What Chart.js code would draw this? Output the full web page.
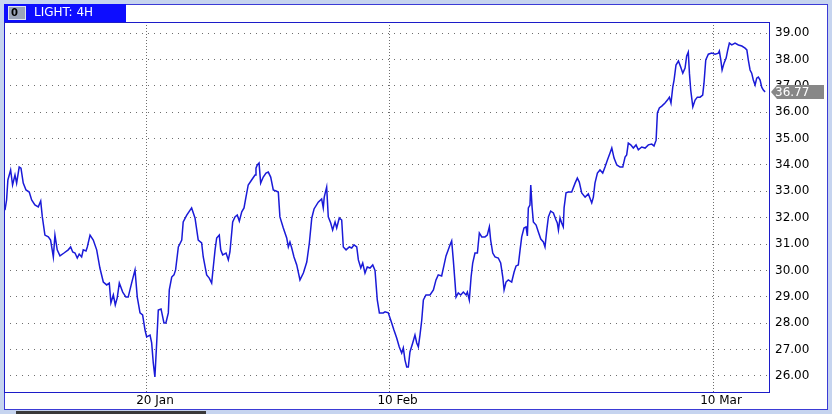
<!DOCTYPE html>
<html>
<head>
<meta charset="utf-8">
<script src="https://cdn.jsdelivr.net/npm/chart.js@4/dist/chart.umd.min.js"></script>
<style>
  html, body { margin: 0; padding: 0; background: #c6d4ef; }
  #wrap { width: 832px; height: 414px; }
</style>
</head>
<body>
<div id="wrap"><canvas id="priceChart" width="832" height="414"></canvas></div>
<script>
// x = trading days counted from 20 Jan (4H bars), y = price
var days = [
  -8.78,-8.68,-8.60,-8.43,-8.31,-8.16,-8.06,-7.90,-7.79,-7.65,-7.48,-7.28,-7.13,-6.93,-6.72,-6.57,-6.47,-6.31,-6.10,-5.96,
  -5.86,-5.79,-5.69,-5.55,-5.38,-5.13,-4.87,-4.72,-4.59,-4.45,-4.31,-4.19,-4.04,-3.94,-3.77,-3.69,-3.52,-3.32,-3.11,-2.91,
  -2.70,-2.49,-2.33,-2.23,-2.08,-1.96,-1.84,-1.71,-1.50,-1.30,-1.16,-0.95,-0.74,-0.60,-0.43,-0.27,-0.12,-0.02,0.19,0.29,
  0.39,0.49,0.60,0.70,0.87,1.05,1.17,1.32,1.38,1.53,1.67,1.77,1.94,2.15,2.24,2.46,2.76,2.97,3.17,3.38,
  3.48,3.69,3.85,4.00,4.10,4.21,4.31,4.47,4.56,4.68,4.89,5.03,5.13,5.30,5.44,5.58,5.71,5.86,6.00,6.12,
  6.26,6.47,6.68,6.74,6.82,6.93,7.03,7.19,7.36,7.50,7.65,7.81,7.98,8.12,8.22,8.43,8.64,8.74,8.84,8.95,
  9.09,9.26,9.46,9.67,9.88,10.04,10.19,10.33,10.59,10.80,10.90,10.96,11.11,11.21,11.36,11.48,11.63,11.73,11.89,12.04,
  12.14,12.31,12.51,12.66,12.80,12.97,13.07,13.22,13.34,13.48,13.62,13.79,13.96,14.10,14.24,14.37,14.61,14.72,14.92,15.13,
  15.27,15.44,15.60,15.75,15.85,15.95,16.06,16.16,16.26,16.43,16.57,16.68,16.78,16.88,16.99,17.09,17.25,17.50,17.71,17.87,
  18.01,18.22,18.37,18.49,18.63,18.74,18.84,18.94,19.05,19.11,19.25,19.40,19.56,19.73,19.81,19.93,20.04,20.14,20.28,20.43,
  20.55,20.70,20.90,21.04,21.17,21.25,21.38,21.52,21.72,21.87,22.00,22.08,22.20,22.34,22.55,22.70,22.82,22.96,23.07,23.17,
  23.31,23.44,23.52,23.58,23.68,23.73,23.81,23.89,24.06,24.20,24.35,24.51,24.61,24.72,24.82,24.96,25.13,25.29,25.37,25.44,
  25.54,25.64,25.74,25.79,25.91,26.05,26.26,26.47,26.61,26.73,26.88,27.09,27.29,27.50,27.60,27.70,27.85,28.01,28.18,28.32,
  28.47,28.63,28.74,28.88,29.05,29.25,29.42,29.56,29.66,29.76,29.91,30.07,30.24,30.38,30.59,30.80,31.00,31.21,31.35,31.48,
  31.56,31.68,31.83,32.03,32.18,32.30,32.40,32.51,32.59,32.71,32.86,33.00,33.13,33.27,33.37,33.47,33.54,33.62,33.75,33.89,
  34.03,34.20,34.36,34.44,34.55,34.71,34.92,35.13,35.33,35.39,35.48,35.56,35.68,35.81,35.91,36.01,36.16,36.36,36.57,36.78,
  36.98,37.09,37.18,37.29,37.39,37.49,37.60,37.70,37.80,37.91,38.01,38.11,38.22
];
var prices = [
  32.29,32.67,33.43,33.81,33.24,33.62,33.31,33.92,33.88,33.31,33.05,32.97,32.67,32.48,32.41,32.63,32.03,31.34,31.27,31.15,
  30.78,30.51,31.34,30.78,30.55,30.66,30.78,30.89,30.70,30.66,30.47,30.62,30.51,30.78,30.74,30.89,31.34,31.15,30.78,30.09,
  29.56,29.45,29.52,28.77,29.07,28.69,28.96,29.52,29.18,28.99,28.99,29.52,30.02,28.99,28.39,28.31,27.74,27.48,27.55,27.25,
  26.49,25.96,27.25,28.50,28.54,28.01,28.01,28.39,29.26,29.75,29.83,30.02,30.89,31.15,31.84,32.10,32.37,31.99,31.15,31.04,
  30.51,29.83,29.71,29.52,30.13,30.78,31.23,31.34,30.78,30.59,30.66,30.40,30.70,31.84,32.03,32.10,31.87,32.22,32.37,32.78,
  33.24,33.43,33.62,33.88,34.00,34.07,33.31,33.54,33.69,33.73,33.54,33.05,33.01,32.97,32.03,31.61,31.23,30.89,31.08,30.85,
  30.51,30.21,29.64,29.90,30.32,31.04,31.99,32.33,32.59,32.71,32.37,32.78,33.16,32.03,31.80,31.53,31.84,31.61,31.99,31.91,
  30.89,30.78,30.89,30.85,30.97,30.89,30.40,30.09,30.28,29.90,30.13,30.09,30.21,30.00,28.88,28.39,28.39,28.43,28.39,28.01,
  27.74,27.44,27.10,26.87,27.06,26.61,26.34,26.34,26.91,27.25,27.55,27.25,27.10,27.55,28.12,28.88,29.07,29.07,29.26,29.64,
  29.83,29.79,30.21,30.55,30.78,30.97,31.12,30.40,29.52,28.99,29.15,29.07,29.18,29.07,29.18,28.88,29.75,30.28,30.66,30.66,
  31.42,31.27,31.27,31.34,31.65,31.15,30.66,30.51,30.47,30.28,29.75,29.26,29.56,29.64,29.56,29.94,30.17,30.21,30.78,31.27,
  31.61,31.65,31.31,32.37,32.48,33.24,32.41,31.84,31.72,31.46,31.19,31.08,30.89,31.53,32.03,32.25,32.18,31.91,31.80,31.53,
  31.99,31.80,31.65,32.37,32.94,32.97,32.97,33.31,33.50,33.35,32.94,32.78,32.90,32.56,32.78,33.31,33.69,33.81,33.69,33.92,
  34.19,34.45,34.64,34.26,34.00,33.92,33.92,34.30,34.38,34.83,34.76,34.64,34.76,34.57,34.68,34.64,34.76,34.79,34.72,34.94,
  35.97,36.16,36.23,36.35,36.46,36.57,36.35,36.95,37.22,37.79,37.94,37.71,37.48,37.67,38.13,38.28,37.48,36.84,36.20,36.46,
  36.57,36.57,36.65,37.10,37.98,38.20,38.24,38.20,38.24,38.32,37.98,37.60,37.86,38.05,38.36,38.62,38.55,38.62,38.55,38.51,
  38.43,38.36,37.98,37.60,37.48,37.22,37.03,37.29,37.33,37.22,36.95,36.84,36.77
];
var xTickDays = [0, 15, 35];
var xTickLabels = ["20 Jan", "10 Feb", "10 Mar"];
var yTicks = [26, 27, 28, 29, 30, 31, 32, 33, 34, 35, 36, 37, 38, 39];
var symbol = "LIGHT: 4H";

function loadPriceChart () {
	Chart.defaults.font.family = "'DejaVu Sans', sans-serif";
	Chart.defaults.font.size = 12;
	Chart.defaults.color = "#000";

	var frame = {
		id: 'frame',
		beforeDraw: function (chart) {
			var ctx = chart.ctx;
			ctx.save();
			ctx.fillStyle = "#c6d4ef";
			ctx.fillRect(0, 0, 832, 414);
			ctx.fillStyle = "#fff";
			ctx.fillRect(4, 4, 824, 406);
			ctx.strokeStyle = "#3b3bd6";
			ctx.lineWidth = 1;
			ctx.strokeRect(4.5, 4.5, 823, 405);
			ctx.restore();
		},
		afterDraw: function (chart) {
			var ctx = chart.ctx, a = chart.chartArea;
			ctx.save();
			// plot frame
			ctx.strokeStyle = "#1c1cc8";
			ctx.lineWidth = 1;
			ctx.strokeRect(a.left + 0.5, a.top + 0.5, a.right - a.left, a.bottom - a.top);
			// title tab
			ctx.fillStyle = "#0d0dff";
			ctx.fillRect(4, 4, 122, 18);
			ctx.fillStyle = "#9aa3b8";
			ctx.fillRect(8, 6, 18, 14);
			ctx.strokeStyle = "#dfe4ee";
			ctx.strokeRect(8.5, 6.5, 17, 13);
			ctx.fillStyle = "#000";
			ctx.font = "bold 10px 'DejaVu Sans'";
			ctx.textBaseline = "middle";
			ctx.fillText("0", 11, 13);
			ctx.fillStyle = "#fff";
			ctx.font = "12px 'DejaVu Sans'";
			ctx.fillText(symbol, 34, 13);
			// last value tag
			var last = prices[prices.length - 1];
			var y = chart.scales.y.getPixelForValue(last);
			var x0 = a.right + 2;
			ctx.fillStyle = "#878787";
			ctx.beginPath();
			ctx.moveTo(x0, y);
			ctx.lineTo(x0 + 6, y - 7);
			ctx.lineTo(x0 + 53, y - 7);
			ctx.lineTo(x0 + 53, y + 7);
			ctx.lineTo(x0 + 6, y + 7);
			ctx.closePath();
			ctx.fill();
			ctx.fillStyle = "#fff";
			ctx.fillText(last.toFixed(2), x0 + 4, y + 1);
			// scroll bar
			ctx.fillStyle = "#3a3a3a";
			ctx.fillRect(16, 411, 190, 3);
			ctx.restore();
		}
	};

	var ctx = document.getElementById("priceChart");
	new Chart(ctx, {
		type: 'line',
		data: {
			datasets: [{
				data: days.map(function (d, i) { return { x: d, y: prices[i] }; }),
				borderColor: "#1a1ad8",
				borderWidth: 1.5,
				pointRadius: 0,
				tension: 0,
				fill: false
			}]
		},
		options: {
			responsive: false,
			animation: false,
			events: [],
			layout: { padding: { left: 4, top: 22, right: 6, bottom: 4 } },
			plugins: { legend: { display: false }, tooltip: { enabled: false } },
			scales: {
				x: {
					type: 'linear',
					min: -8.84,
					max: 38.46,
					afterBuildTicks: function (scale) {
						scale.ticks = xTickDays.map(function (v) { return { value: v }; });
					},
					afterFit: function (scale) { scale.height = 18; },
					grid: { color: "#6e6e6e", drawTicks: false },
					border: { display: false, dash: [1, 2] },
					ticks: {
						padding: 2,
						labelOffset: 8,
						autoSkip: false,
						maxRotation: 0,
						callback: function (v, i) { return xTickLabels[i]; }
					}
				},
				y: {
					position: 'right',
					min: 25.39,
					max: 39.42,
					afterBuildTicks: function (scale) {
						scale.ticks = yTicks.map(function (v) { return { value: v }; });
					},
					afterFit: function (scale) { scale.width = 57; },
					grid: { color: "#6e6e6e", drawTicks: false },
					border: { display: false, dash: [1, 5] },
					ticks: {
						padding: 6,
						autoSkip: false,
						callback: function (v) { return v.toFixed(2); }
					}
				}
			}
		},
		plugins: [frame]
	});
}
window.addEventListener("load", function(){ loadPriceChart(); });
</script>
</body>
</html>
